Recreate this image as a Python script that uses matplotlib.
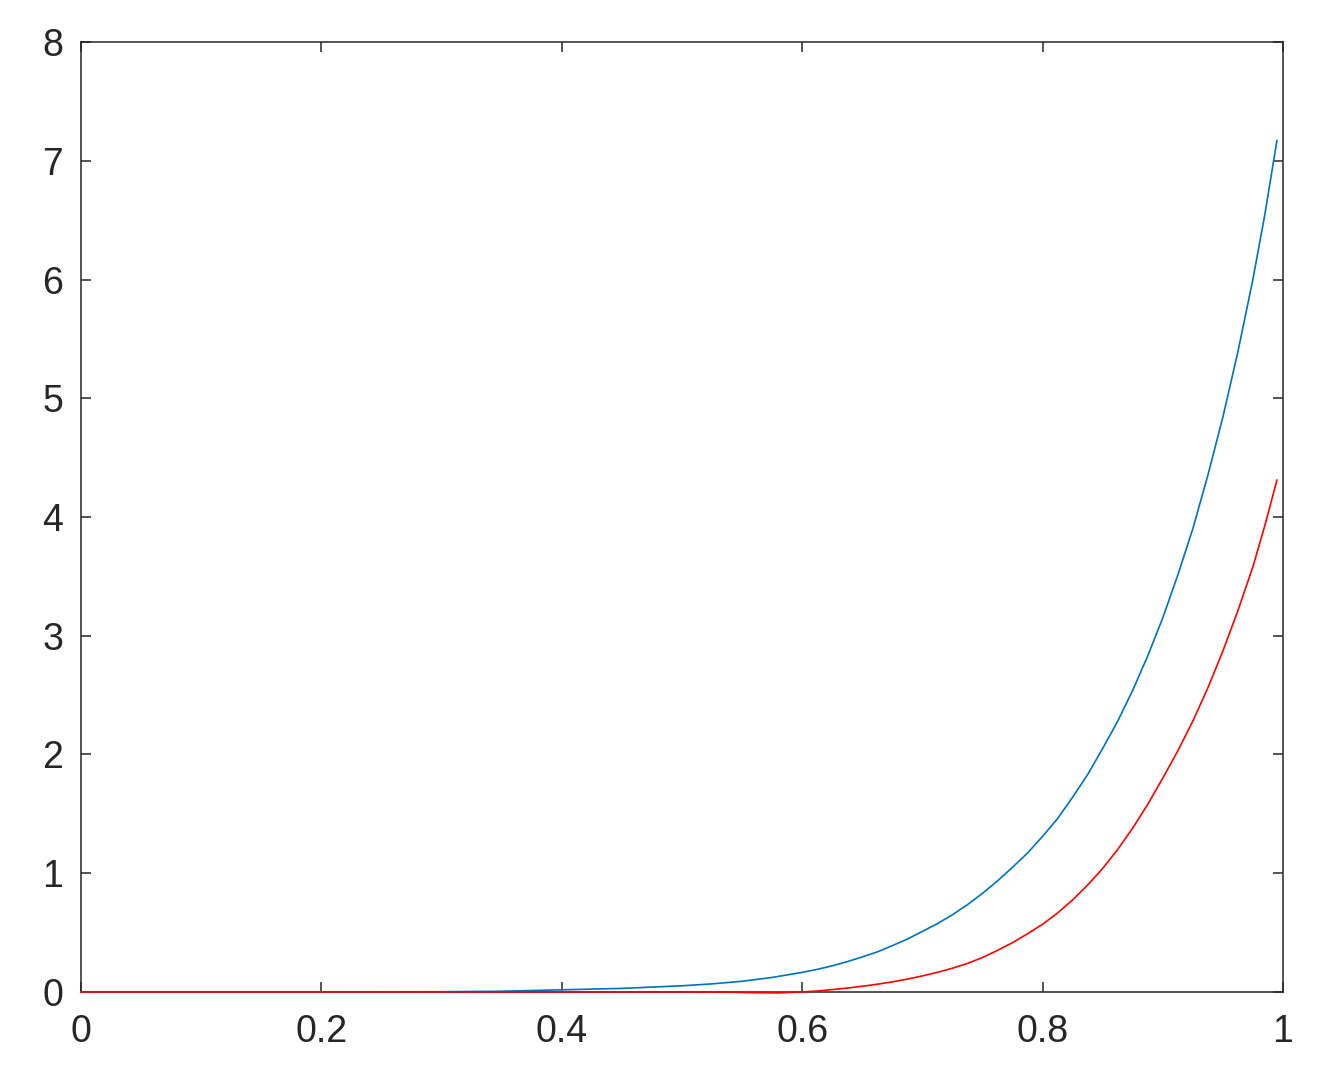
import numpy as np
from matplotlib import pyplot as plt

# values
blue_x = [0, 0.1, 0.2, 0.3, 0.35, 0.4, 0.45, 0.5, 0.525, 0.55, 0.575, 0.6,
          0.6125, 0.625, 0.6375, 0.65, 0.6625, 0.675, 0.6875, 0.7, 0.7125, 0.725,
          0.7375, 0.75, 0.7625, 0.775, 0.7875, 0.8, 0.8125, 0.825, 0.8375, 0.85,
          0.8625, 0.875, 0.8875, 0.9, 0.9125, 0.925, 0.9375, 0.95, 0.9625, 0.975,
          0.985, 0.995]
blue_y = [0, 0, 0.0002, 0.002, 0.006, 0.018, 0.03, 0.052, 0.068, 0.09, 0.122, 0.165,
          0.19, 0.22, 0.255, 0.295, 0.337, 0.39, 0.445, 0.51, 0.575, 0.65,
          0.735, 0.83, 0.935, 1.05, 1.17, 1.31, 1.46, 1.64, 1.83, 2.05,
          2.28, 2.54, 2.83, 3.15, 3.51, 3.90, 4.35, 4.84, 5.39, 6.0,
          6.55, 7.17]

red_x = [0, 0.1, 0.2, 0.3, 0.4, 0.5, 0.54, 0.56, 0.58, 0.6, 0.6125, 0.625,
         0.6375, 0.65, 0.6625, 0.675, 0.6875, 0.7, 0.7125, 0.725, 0.7375, 0.75,
         0.7625, 0.775, 0.7875, 0.8, 0.8125, 0.825, 0.8375, 0.85, 0.8625, 0.875,
         0.8875, 0.9, 0.9125, 0.925, 0.9375, 0.95, 0.9625, 0.975, 0.985, 0.995]
red_y = [0, 0, 0, 0, 0, 0, -0.002, -0.006, -0.008, 0.0, 0.008, 0.02,
         0.033, 0.048, 0.065, 0.085, 0.108, 0.135, 0.165, 0.2, 0.24, 0.29,
         0.35, 0.415, 0.49, 0.57, 0.665, 0.775, 0.9, 1.04, 1.2, 1.38,
         1.58, 1.8, 2.03, 2.28, 2.56, 2.87, 3.21, 3.58, 3.93, 4.31]

x_ticks = [0, 0.2, 0.4, 0.6, 0.8, 1]
x_labels = ['0', '0.2', '0.4', '0.6', '0.8', '1']
y_ticks = [0, 1, 2, 3, 4, 5, 6, 7, 8]

plt.rcParams['font.family'] = ['Liberation Sans', 'DejaVu Sans']

fig = plt.figure(figsize=(13.35, 10.86), dpi=100)
ax = fig.add_axes([0.0607, 0.0866, 0.9003, 0.8747])

ax.plot(blue_x, blue_y, color='#0072BD', lw=1.2, clip_on=False, zorder=3)
ax.plot(red_x, red_y, color='#FF0000', lw=1.2, clip_on=False, zorder=3)

ax.set_xlim(0, 1)
ax.set_ylim(0, 8)
ax.set_xticks(x_ticks)
ax.set_xticklabels(x_labels)
ax.set_yticks(y_ticks)

dark = '#262626'
for s in ax.spines.values():
    s.set_color(dark)
    s.set_linewidth(1.1)
ax.tick_params(direction='in', length=7, width=1.1, color=dark,
               labelcolor=dark, labelsize=27, top=True, right=True)
ax.tick_params(axis='x', pad=16)
ax.tick_params(axis='y', pad=13)

fig.savefig('out.png', dpi=100)
